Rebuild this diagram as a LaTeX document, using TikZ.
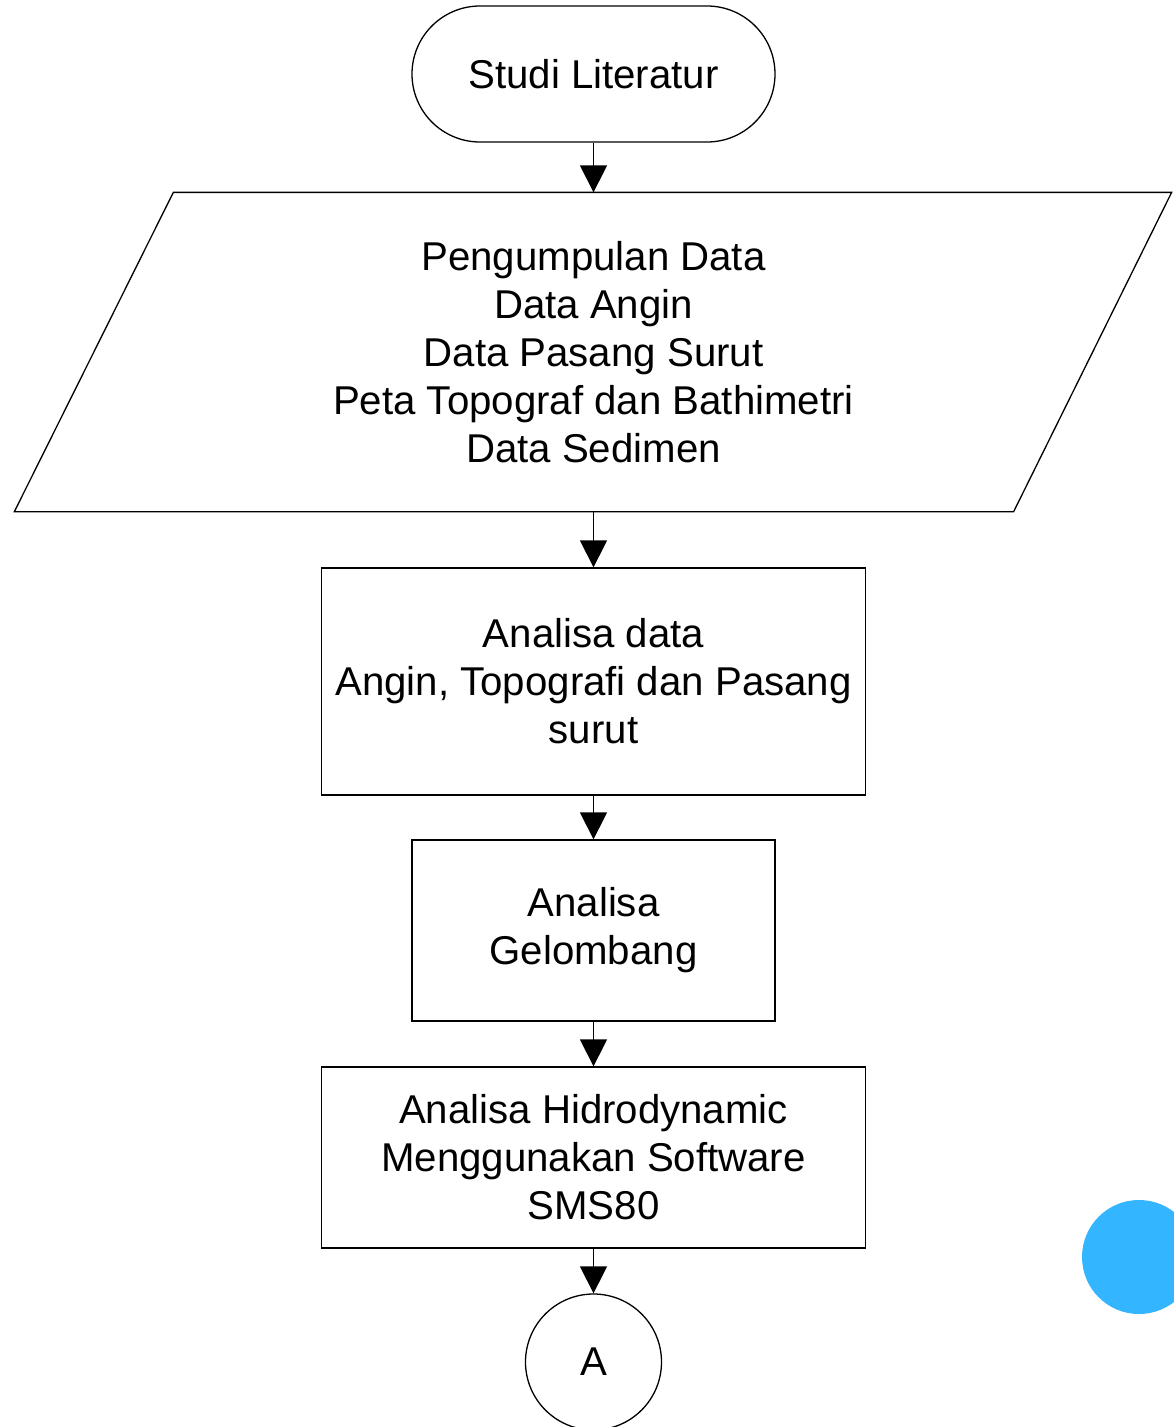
\documentclass[tikz,border=0pt]{standalone}
\usepackage{fontspec}
\setmainfont{Liberation Sans}
\usetikzlibrary{arrows.meta,calc}
\definecolor{dotblue}{RGB}{51,181,255}
\tikzset{
  flow/.style={draw=black, line width=1.3pt, align=center, inner sep=0pt,
    font=\fontsize{40.2}{48}\selectfont},
  procbox/.style={flow, rectangle},
  link/.style={line width=1.3pt, -{Triangle[width=27pt,length=27pt]}}
}
\begin{document}
\begin{tikzpicture}[x=1pt,y=-1pt]
  \clip (0,0) rectangle (1174,1427);
  \fill[white] (0,0) rectangle (1174,1427);

  % start terminal
  \node[flow, rounded corners=68pt, minimum width=363pt, minimum height=136pt]
    (start) at (593.5,74) {Studi Literatur};

  % data input (parallelogram drawn around a plain node)
  \node[flow, draw=none, minimum width=839pt, minimum height=318pt]
    (data) at (593.5,352) {Pengumpulan Data\\Data Angin\\Data Pasang Surut\\Peta Topograf dan Bathimetri\\Data Sedimen};
  \draw[line width=1.3pt, line join=miter]
    ($(data.south west)+(-159,0)$) -- (data.north west) --
    ($(data.north east)+(158,0)$) -- (data.south east) -- cycle;

  % processes
  \node[procbox, minimum width=544pt, minimum height=227pt]
    (ana1) at (593.5,681.5) {Analisa data\\Angin, Topografi dan Pasang\\surut};
  \node[procbox, minimum width=363pt, minimum height=181pt]
    (ana2) at (593.5,930.5) {Analisa\\Gelombang};
  \node[procbox, minimum width=544pt, minimum height=181pt]
    (ana3) at (593.5,1157.5) {Analisa Hidrodynamic\\Menggunakan Software\\SMS80};

  % off-page connector
  \node[flow, circle, minimum size=136pt] (conA) at (593.5,1362) {A};

  % connectors
  \draw[link] (start.south) -- (data.north);
  \draw[link] (data.south) -- (ana1.north);
  \draw[link] (ana1.south) -- (ana2.north);
  \draw[link] (ana2.south) -- (ana3.north);
  \draw[link] (ana3.south) -- (conA.north);

  % decorative dot
  \fill[dotblue] (1139,1257) circle (57);
\end{tikzpicture}
\end{document}
